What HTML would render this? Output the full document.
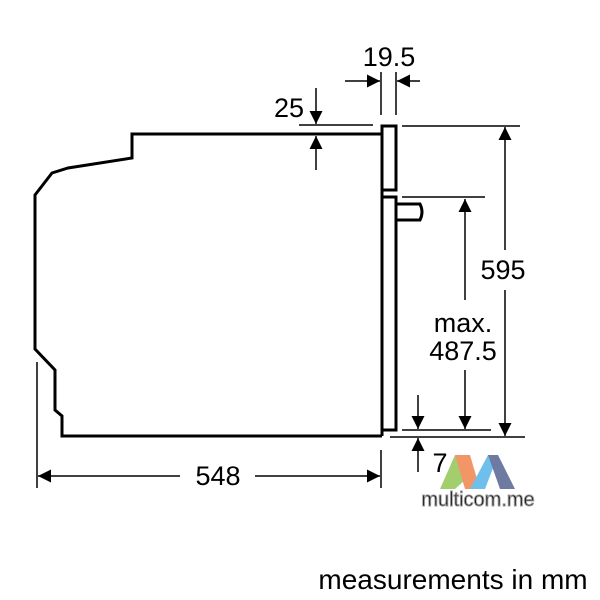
<!DOCTYPE html>
<html><head><style>body{margin:0;background:#fff}svg{display:block}text{font-family:"Liberation Sans",sans-serif;fill:#000}</style></head>
<body>
<svg width="600" height="600" viewBox="0 0 600 600" xmlns="http://www.w3.org/2000/svg">
<defs><marker id="a" viewBox="0 0 10 10" refX="10" refY="5" markerWidth="14" markerHeight="13" markerUnits="userSpaceOnUse" orient="auto"><path d="M0,0L10,5L0,10z" fill="#000"/></marker></defs>
<g fill="none" stroke="#000" stroke-width="3" stroke-linejoin="miter">
<path d="M382,134 H132 V158 L68,168 L52,173 L35,195 V349 L55,370 V410 L62,416 V436 H382"/>
<path d="M382,126 H396 V190 H382 Z"/>
<path d="M382,126 V436"/>
<path d="M382,197 H396 V430 H382"/>
<path d="M396,204 H420 Q424,212 420,220 H396"/>
</g>
<g stroke="#000" stroke-width="1.5" fill="none">
<line x1="37" y1="362" x2="37" y2="488"/>
<line x1="381" y1="450" x2="381" y2="488"/>
<line x1="381" y1="72" x2="381" y2="115"/>
<line x1="396" y1="72" x2="396" y2="115"/>
<line x1="299" y1="125" x2="373" y2="125"/>
<line x1="402" y1="126" x2="520" y2="126"/>
<line x1="402" y1="197" x2="485" y2="197"/>
<line x1="402" y1="430" x2="491" y2="430"/>
<line x1="390" y1="437" x2="525" y2="437"/>
<line x1="345" y1="81" x2="380" y2="81" marker-end="url(#a)"/>
<line x1="420" y1="81" x2="397" y2="81" marker-end="url(#a)"/>
<line x1="316" y1="88" x2="316" y2="124" marker-end="url(#a)"/>
<line x1="316" y1="170" x2="316" y2="136" marker-end="url(#a)"/>
<line x1="418" y1="395" x2="418" y2="429" marker-end="url(#a)"/>
<line x1="418" y1="472" x2="418" y2="438" marker-end="url(#a)"/>
<line x1="465" y1="300" x2="465" y2="199" marker-end="url(#a)"/>
<line x1="465" y1="370" x2="465" y2="429" marker-end="url(#a)"/>
<line x1="505" y1="250" x2="505" y2="127" marker-end="url(#a)"/>
<line x1="505" y1="290" x2="505" y2="436" marker-end="url(#a)"/>
<line x1="180" y1="476" x2="38" y2="476" marker-end="url(#a)"/>
<line x1="255" y1="476" x2="380" y2="476" marker-end="url(#a)"/>
</g>
<g font-size="27" text-anchor="middle">
<text x="389" y="66">19.5</text>
<text x="289" y="117">25</text>
<text x="503" y="279">595</text>
<text x="463" y="332">max.</text>
<text x="463" y="360">487.5</text>
<text x="218" y="485">548</text>
<text x="440" y="472">7</text>
<text x="453" y="589" font-size="28">measurements in mm</text>
</g>
<g opacity="0.8">
<path d="M440,489 L455,455 L465,480 L455,489Z" fill="#8bc34a"/>
<path d="M455,455 L470,455 L480,489 L465,489Z" fill="#ef7d43"/>
<path d="M470,489 L488,455 L498,455 L485,489Z" fill="#4ab0e8"/>
<path d="M488,455 L498,455 L515,489 L500,489Z" fill="#4a5a8a"/>
</g>
<text x="478" y="506" font-size="20" text-anchor="middle" fill="#fff" stroke="#999" stroke-width="1">multicom.me</text>
</svg>
</body></html>
